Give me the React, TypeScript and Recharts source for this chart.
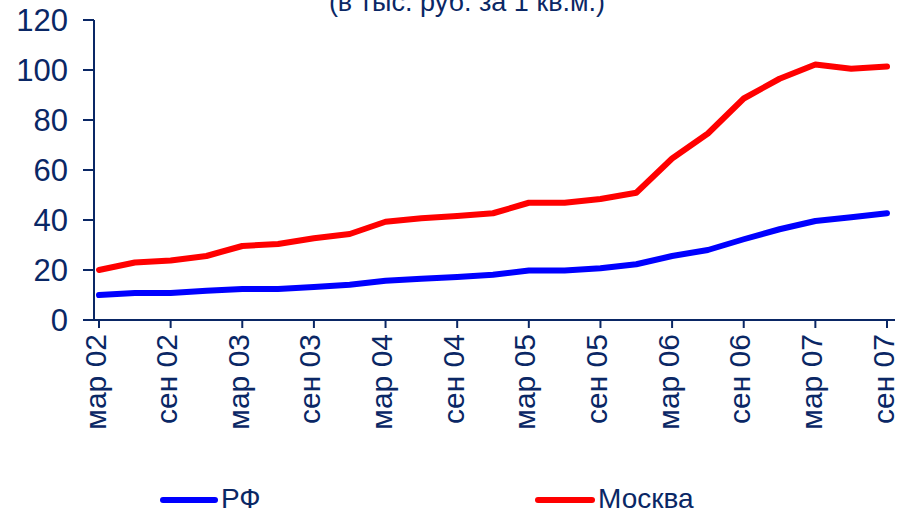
import { LineChart, Line, XAxis, YAxis } from 'recharts'

const quarters = [
  'мар 02', 'июн 02', 'сен 02', 'дек 02',
  'мар 03', 'июн 03', 'сен 03', 'дек 03',
  'мар 04', 'июн 04', 'сен 04', 'дек 04',
  'мар 05', 'июн 05', 'сен 05', 'дек 05',
  'мар 06', 'июн 06', 'сен 06', 'дек 06',
  'мар 07', 'июн 07', 'сен 07',
]

const rf = [
  10, 10.8, 10.8, 11.7, 12.4, 12.4, 13.2, 14.1, 15.7, 16.5, 17.2, 18.1,
  19.8, 19.8, 20.7, 22.3, 25.6, 28, 32.3, 36.3, 39.6, 41.1, 42.7,
]

const moscow = [
  20, 23, 23.8, 25.6, 29.6, 30.4, 32.7, 34.4, 39.3, 40.7, 41.6, 42.7,
  46.9, 46.9, 48.4, 50.9, 64.6, 74.6, 88.6, 96.5, 102.2, 100.5, 101.4,
]

const yTicks = [0, 20, 40, 60, 80, 100, 120]

const NAVY = '#0a2765'
const FONT = 'Arial, "Liberation Sans", sans-serif'

const data = quarters.map((q, i) => ({ q, rf: rf[i], moscow: moscow[i] }))

// rotated category labels, nudged a bit left like the original
function XTick({ x, y, payload }: any) {
  return (
    <text
      transform={`translate(${x - 4},${y}) rotate(-90)`}
      textAnchor="end"
      dominantBaseline="central"
      fill={NAVY}
      fontSize={30}
      fontFamily={FONT}
    >
      {payload.value}
    </text>
  )
}

export default function App() {
  return (
    <div style={{ position: 'absolute', left: 0, top: 0, width: 902, height: 513, background: '#fff', fontFamily: FONT }}>
      <LineChart width={902} height={513} data={data} margin={{ top: 20, right: 7, bottom: 0, left: 0 }}>
        <text x={467} y={11} textAnchor="middle" fill={NAVY} fontSize={27} fontFamily={FONT}>
          (в тыс. руб. за 1 кв.м.)
        </text>
        <XAxis
          dataKey="q"
          interval={1}
          height={193}
          padding={{ left: 5, right: 8 }}
          stroke={NAVY}
          strokeWidth={2}
          tickSize={8}
          tickMargin={6}
          tick={<XTick />}
        />
        <YAxis
          width={94}
          domain={[0, 120]}
          ticks={yTicks}
          stroke={NAVY}
          strokeWidth={2}
          tickSize={11}
          tickMargin={15}
          tick={{ fill: NAVY, fontSize: 31, fontFamily: FONT }}
        />
        <Line
          type="linear"
          dataKey="rf"
          name="РФ"
          stroke="#0000ff"
          strokeWidth={6}
          strokeLinecap="round"
          strokeLinejoin="round"
          dot={false}
          isAnimationActive={false}
        />
        <Line
          type="linear"
          dataKey="moscow"
          name="Москва"
          stroke="#ff0000"
          strokeWidth={6}
          strokeLinecap="round"
          strokeLinejoin="round"
          dot={false}
          isAnimationActive={false}
        />
      </LineChart>
      <div style={{ position: 'absolute', left: 0, top: 0, width: 902, height: 513, pointerEvents: 'none' }}>
        <div style={{ position: 'absolute', left: 160, top: 497, width: 58, height: 6, borderRadius: 3, background: '#0000ff' }} />
        <div style={{ position: 'absolute', left: 221, top: 484, fontSize: 28, color: NAVY, lineHeight: '30px' }}>РФ</div>
        <div style={{ position: 'absolute', left: 535, top: 497, width: 60, height: 6, borderRadius: 3, background: '#ff0000' }} />
        <div style={{ position: 'absolute', left: 598, top: 484, fontSize: 28, color: NAVY, lineHeight: '30px' }}>Москва</div>
      </div>
    </div>
  )
}
